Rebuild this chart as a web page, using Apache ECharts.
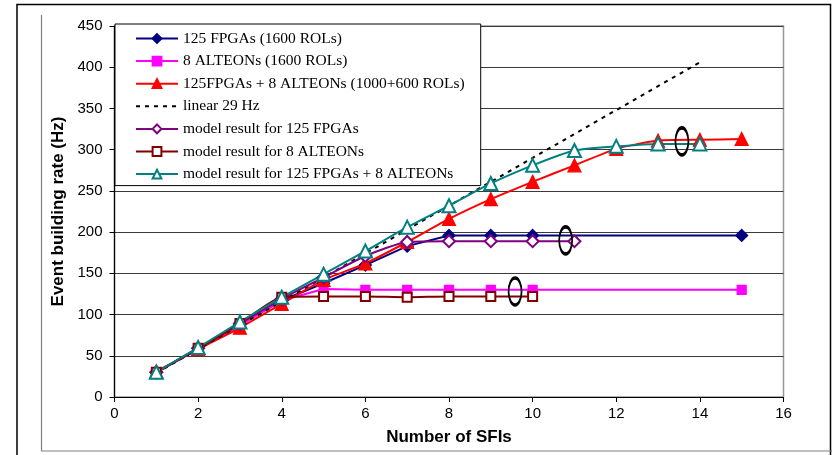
<!DOCTYPE html>
<html>
<head>
<meta charset="utf-8">
<script src="https://cdn.jsdelivr.net/npm/echarts@6/dist/echarts.min.js"></script>
<style>html,body{margin:0;padding:0;background:#fff;}#c{width:832px;height:455px;}</style>
</head>
<body>
<div id="c"></div>
<script>
// ---- data ----
var xTicks = [0, 2, 4, 6, 8, 10, 12, 14, 16];
var yTicks = [0, 50, 100, 150, 200, 250, 300, 350, 400, 450];

var fpgaX = [1, 2, 3, 4, 5, 6, 7, 8, 9, 10, 15];
var fpgaY = [30, 59, 88, 117, 138, 160, 183, 196, 196, 196, 196];

var alteonX = [1, 2, 3, 4, 5, 6, 7, 8, 9, 10, 15];
var alteonY = [30, 58, 87, 117, 131, 130, 130, 130, 130, 130, 130];

var combX = [1, 2, 3, 4, 5, 6, 7, 8, 9, 10, 11, 12, 13, 14, 15];
var combY = [31, 58, 84, 113, 142, 162, 188, 216, 240, 261, 281, 301, 311, 312, 313];

var linX = [1, 2, 3, 4, 5, 6, 7, 8, 9, 10, 11, 12, 13, 14];
var linY = [29, 58, 87, 116, 145, 174, 203, 232, 261, 290, 319, 348, 377, 406];

var mFpgaX = [1, 2, 3, 4, 5, 6, 7, 8, 9, 10, 11];
var mFpgaY = [30, 59, 89, 119, 145, 171, 188, 189, 189, 189, 189];

var mAlteonX = [1, 2, 3, 4, 5, 6, 7, 8, 9, 10];
var mAlteonY = [30, 59, 89, 121, 122, 122, 121, 122, 122, 122];

var mCombX = [1, 2, 3, 4, 5, 6, 7, 8, 9, 10, 11, 12, 13, 14];
var mCombY = [30, 60, 91, 121, 149, 177, 206, 232, 259, 281, 299, 304, 307, 307];

var ellipseX = [13.57, 10.79, 9.58];
var ellipseY = [310, 190, 128];

var names = [
  '125 FPGAs (1600 ROLs)',
  '8 ALTEONs (1600 ROLs)',
  '125FPGAs + 8 ALTEONs (1000+600 ROLs)',
  'linear 29 Hz',
  'model result for 125 FPGAs',
  'model result for 8 ALTEONs',
  'model result for 125 FPGAs + 8 ALTEONs'
];

function pairs(xs, ys) { return xs.map(function (x, i) { return [x, ys[i]]; }); }

function lineSeries(name, xs, ys, color, symbol, size, smooth, extra) {
  var s = {
    name: name, type: 'line', data: pairs(xs, ys),
    symbol: symbol, symbolSize: size, smooth: smooth,
    showAllSymbol: true,
    lineStyle: { color: color, width: 2 },
    itemStyle: { color: color, borderColor: color, borderWidth: 1.2 },
    emphasis: { disabled: true },
    animation: false
  };
  if (extra) { for (var k in extra) s[k] = extra[k]; }
  return s;
}

var chart = echarts.init(document.getElementById('c'), null, { renderer: 'canvas' });
var option = {
  animation: false,
  backgroundColor: '#fff',
  grid: { left: 114.5, right: 48.5, top: 26, bottom: 58, show: true, borderColor: '#999', borderWidth: 1.5, backgroundColor: 'transparent' },
  xAxis: {
    type: 'value', min: xTicks[0], max: xTicks[xTicks.length - 1], interval: 2,
    name: 'Number of SFIs', nameLocation: 'middle', nameGap: 32,
    nameTextStyle: { fontFamily: 'Liberation Sans', fontWeight: 'bold', fontSize: 17, color: '#000' },
    axisLine: { show: true, onZero: false, lineStyle: { color: '#000', width: 1.2 } },
    axisTick: { show: true, inside: false, length: 5, lineStyle: { color: '#000' } },
    axisLabel: { fontFamily: 'Liberation Sans', fontSize: 15, color: '#000', margin: 9 },
    splitLine: { show: false }
  },
  yAxis: {
    type: 'value', min: yTicks[0], max: yTicks[yTicks.length - 1], interval: 50,
    name: 'Event building rate (Hz)', nameLocation: 'middle', nameGap: 47, nameRotate: 90,
    nameTextStyle: { fontFamily: 'Liberation Sans', fontWeight: 'bold', fontSize: 17, color: '#000' },
    axisLine: { show: true, lineStyle: { color: '#000', width: 1.2 } },
    axisTick: { show: true, inside: false, length: 5, lineStyle: { color: '#000' } },
    axisLabel: { fontFamily: 'Liberation Sans', fontSize: 15, color: '#000', margin: 12 },
    splitLine: { show: true, lineStyle: { color: '#3a3a3a', width: 1 } }
  },
  legend: {
    data: names,
    orient: 'vertical', left: 115, top: 24,
    itemWidth: 42, itemHeight: 11, itemGap: 5.6,
    padding: [6, 16, 3, 20],
    backgroundColor: '#fff', borderColor: '#000', borderWidth: 1,
    textStyle: { fontFamily: 'Liberation Serif', fontSize: 15.5, color: '#000', lineHeight: 17 },
    selectedMode: false
  },
  graphic: [
    { type: 'polyline', shape: { points: [[17, 455], [17, 4.5], [830.5, 4.5], [830.5, 455]] }, style: { stroke: '#000', lineWidth: 1.5, fill: null }, silent: true, z: -1 },
    { type: 'polyline', shape: { points: [[41.5, 15], [41.5, 451], [832, 451]] }, style: { stroke: '#808080', lineWidth: 1.2, fill: null }, silent: true, z: -1 }
  ],
  series: [
    lineSeries(names[0], fpgaX, fpgaY, '#000080', 'diamond', 12, false),
    lineSeries(names[1], alteonX, alteonY, '#FF00FF', 'rect', 9, false),
    lineSeries(names[2], combX, combY, '#FF0000', 'triangle', 13, 0.2),
    lineSeries(names[3], linX, linY, '#000', 'circle', 1, false, {
      showSymbol: false,
      lineStyle: { color: '#000', width: 2, type: [4, 5] },
      itemStyle: { color: 'rgba(0,0,0,0)', borderColor: 'rgba(0,0,0,0)', borderWidth: 0 }
    }),
    lineSeries(names[4], mFpgaX, mFpgaY, '#800080', 'emptyDiamond', 12, 0.2),
    lineSeries(names[5], mAlteonX, mAlteonY, '#800000', 'emptyRect', 9, 0.2),
    lineSeries(names[6], mCombX, mCombY, '#008080', 'emptyTriangle', 13, 0.2),
    {
      name: 'ellipses', type: 'scatter', data: pairs(ellipseX, ellipseY),
      symbol: 'circle', symbolSize: [13, 27],
      itemStyle: { color: 'rgba(0,0,0,0)', borderColor: '#000', borderWidth: 2.5, opacity: 1 },
      emphasis: { disabled: true }, z: 5
    }
  ]
};
chart.setOption(option);
</script>
</body>
</html>
